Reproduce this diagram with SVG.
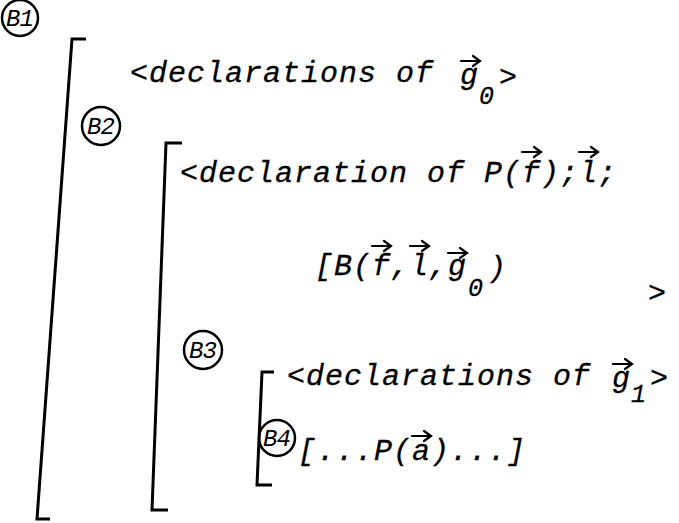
<svg xmlns="http://www.w3.org/2000/svg" width="679" height="523" viewBox="0 0 679 523">
<style>
.t{font-family:"Liberation Mono","DejaVu Sans Mono",monospace;font-style:italic;font-size:30px;letter-spacing:1px;fill:#000;stroke:#000;stroke-width:0.3}
.s{font-family:"Liberation Mono","DejaVu Sans Mono",monospace;font-style:italic;font-size:25px;fill:#000;stroke:#000;stroke-width:0.3}
.lab{font-family:"Liberation Mono","DejaVu Sans Mono",monospace;font-style:italic;font-size:24px;letter-spacing:-1px;fill:#000}
.c{fill:none;stroke:#000;stroke-width:2.5}
.br{fill:none;stroke:#000;stroke-width:3;stroke-linejoin:miter}
.v{fill:none;stroke:#000;stroke-width:2.2;stroke-linecap:round}
</style>
<rect width="679" height="523" fill="#fff"/>
<g id="B1">
  <circle class="c" cx="20" cy="18" r="18"/>
  <text class="lab" x="6" y="26">B1</text>
  <path class="br" d="M86,39 H72 L37,519 H50"/>
  <text class="t" x="130" y="82">&lt;declarations of</text>
  <text class="t" x="460" y="84">g</text>
  <path class="v" d="M461,61 H479 M473,56 L480,61 L473,66"/>
  <text class="s" x="479" y="104">0</text>
  <text class="t" x="499" y="86">&gt;</text>
</g>
<g id="B2">
  <circle class="c" cx="101" cy="126" r="19"/>
  <text class="lab" x="87" y="134">B2</text>
  <path class="br" d="M182,143 H166 L152,510 H168"/>
  <text class="t" x="180" y="182">&lt;declaration of P(f);l;</text>
  <path class="v" d="M522,152 H540 M534,147 L541,152 L534,157"/>
  <path class="v" d="M579,152 H597 M591,147 L598,152 L591,157"/>
  <text class="t" x="315" y="275">[B(f,l,g</text>
  <path class="v" d="M372,246 H390 M384,241 L391,246 L384,251"/>
  <path class="v" d="M410,246 H428 M422,241 L429,246 L422,251"/>
  <path class="v" d="M448,253 H466 M460,248 L467,253 L460,258"/>
  <text class="s" x="468" y="296">0</text>
  <text class="t" x="488" y="277">)</text>
  <text class="t" x="648" y="302">&gt;</text>
</g>
<g id="B3">
  <circle class="c" cx="203" cy="350" r="19"/>
  <text class="lab" x="189" y="358">B3</text>
  <path class="br" d="M274,372 H262 L257,485 H272"/>
  <text class="t" x="287" y="385">&lt;declarations of</text>
  <text class="t" x="612" y="387">g</text>
  <path class="v" d="M613,364 H631 M625,359 L632,364 L625,369"/>
  <text class="s" x="631" y="402">1</text>
  <text class="t" x="650" y="387">&gt;</text>
</g>
<g id="B4">
  <circle class="c" cx="277" cy="438" r="18"/>
  <text class="lab" x="263" y="446">B4</text>
  <text class="t" x="298" y="460">[...P(a)...]</text>
  <path class="v" d="M412,436 H430 M424,431 L431,436 L424,441"/>
</g>
<g id="connectors"></g>
</svg>
